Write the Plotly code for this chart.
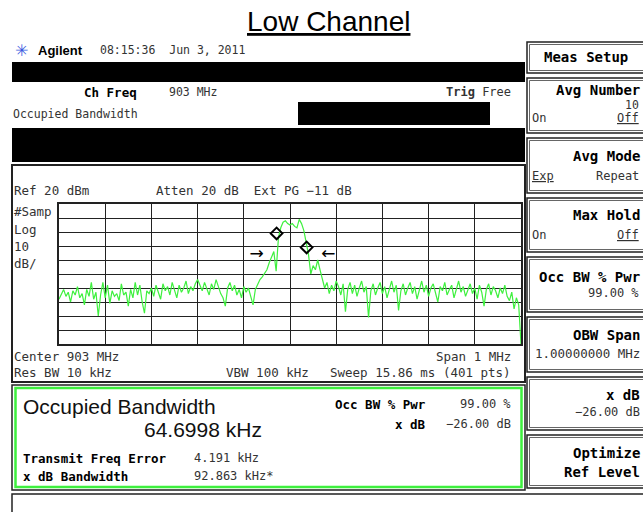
import plotly.graph_objects as go
import numpy as np

center_mhz = 903.0
span_mhz = 1.0
ref_level_dbm = 20
db_per_div = 10

# niveau de la trace (dBm), 201 points sur le span de 1 MHz
level_dbm = [
    -48, -44, -41, -46, -43, -50, -42, -45, -39, -47,
    -44, -52, -41, -46, -36, -48, -43, -60, -45, -36,
    -47, -38, -51, -42, -46, -44, -49, -37, -45, -43,
    -53, -41, -47, -36, -45, -38, -50, -58, -42, -44,
    -40, -46, -38, -43, -48, -37, -42, -39, -45, -36,
    -41, -47, -38, -43, -40, -35, -44, -39, -42, -37,
    -34, -38, -42, -36, -40, -45, -37, -41, -34, -39,
    -44, -47, -53, -40, -36, -42, -38, -45, -41, -47,
    -39, -43, -40, -46, -52, -41, -37, -34, -32, -29,
    -27, -22, -18, -14, -28, -4, 3, 7, 8, 6,
    5, 6, 4, 3, 9, 6, 1, -8, -16, -30,
    -24, -27, -20, -27, -33, -40, -36, -44, -38, -42,
    -35, -39, -45, -37, -57, -41, -36, -44, -38, -46,
    -40, -35, -43, -39, -61, -42, -37, -45, -40, -36,
    -44, -39, -47, -41, -35, -43, -38, -56, -42, -37,
    -45, -40, -36, -44, -39, -48, -41, -35, -43, -38,
    -46, -40, -37, -44, -50, -39, -42, -36, -45, -41,
    -38, -47, -40, -35, -43, -39, -46, -42, -37, -44,
    -40, -48, -38, -43, -53, -41, -37, -45, -39, -42,
    -47, -40, -44, -38, -46, -49, -43, -55, -47, -52,
    -80,
]
freq_mhz = np.linspace(center_mhz - span_mhz / 2, center_mhz + span_mhz / 2, len(level_dbm))

# marqueurs losange (points x dB) et flèches (limites OBW)
marker_freq_mhz = [902.971, 903.036]
marker_level_dbm = [-1, -11]
arrow_freq_mhz = [902.928, 903.083]
arrow_level_dbm = [-16, -16]
arrow_text = ["→", "←"]

W, H = 643, 512
MONO = "DejaVu Sans Mono"
SANS = "Liberation Sans"
GREEN = "#3ef03e"


def X(px):
    return px / W


def Y(py):
    return 1 - py / H


fig = go.Figure()

fig.add_trace(go.Scatter(
    x=freq_mhz, y=level_dbm, mode="lines",
    line=dict(color=GREEN, width=1.2), hoverinfo="skip"
))
fig.add_trace(go.Scatter(
    x=marker_freq_mhz, y=marker_level_dbm, mode="markers",
    marker=dict(symbol="diamond-open", size=9, color="black", line=dict(width=2, color="black")),
    hoverinfo="skip"
))
fig.add_trace(go.Scatter(
    x=arrow_freq_mhz, y=arrow_level_dbm, mode="text", text=arrow_text,
    textfont=dict(family="DejaVu Sans", size=17, color="black"), hoverinfo="skip"
))

shapes = []
annotations = []


def rect(x0, y0, x1, y1, fill=None, line="black", width=1.5):
    shapes.append(dict(
        type="rect", xref="paper", yref="paper",
        x0=X(x0), x1=X(x1), y0=Y(y0), y1=Y(y1),
        fillcolor=fill if fill else "rgba(0,0,0,0)",
        line=dict(color=line, width=width), layer="above"
    ))


def label(x, y, text, size=11.5, anchor="left", family=MONO, color="#222"):
    annotations.append(dict(
        x=X(x), y=Y(y), xref="paper", yref="paper", text=text, showarrow=False,
        xanchor=anchor, yanchor="middle", borderpad=0,
        font=dict(family=family, size=size, color=color)
    ))


# titre
label(328, 21, "<u>Low Channel</u>", size=28, anchor="center", family=SANS, color="black")

# en-tête
label(14, 50, "✳", size=16, family="DejaVu Sans", color="#3a5be0")
label(37, 50, "<b>Agilent</b>", size=13, family=SANS, color="black")
label(99, 50, "08:15:36  Jun 3, 2011", size=11.5, color="#333")
rect(12, 62, 525, 82, fill="black", line="black", width=0)
label(83, 92, "<b>Ch Freq</b>", size=12.5, color="black")
label(168, 92, "903 MHz", size=11.5, color="#333")
label(512, 92, "<b>Trig</b> Free", size=12, anchor="right", color="#333")
label(12, 114, "Occupied Bandwidth", size=11.5, color="#333")
rect(298, 102, 490, 125, fill="black", line="black", width=0)
rect(12, 128, 525, 162, fill="black", line="black", width=0)

# cadre de la zone trace
rect(12, 165, 525, 382, line="#222", width=2)
label(13, 190, "Ref 20 dBm", size=12.5, color="#333")
label(155, 190, "Atten 20 dB  Ext PG −11 dB", size=12.5, color="#333")
label(13, 211, "#Samp", size=12.5, color="#333")
label(13, 229, "Log", size=12.5, color="#333")
label(13, 246, "10", size=12.5, color="#333")
label(13, 263, "dB/", size=12.5, color="#333")
label(13, 356, "Center 903 MHz", size=12.5, color="#333")
label(13, 372, "Res BW 10 kHz", size=12.5, color="#333")
label(225, 372, "VBW 100 kHz", size=12.5, color="#333")
label(512, 356, "Span 1 MHz", size=12.5, anchor="right", color="#333")
label(512, 372, "Sweep 15.86 ms (401 pts)", size=12.5, anchor="right", color="#333")

# bloc résultats
rect(12, 385, 525, 490, line="#222", width=1.5)
rect(15.5, 388, 521.5, 487, line=GREEN, width=2.5)
label(22, 406, "Occupied Bandwidth", size=21, family=SANS, color="#111")
label(143, 429, "64.6998 kHz", size=21, family=SANS, color="#111")
label(22, 458, "<b>Transmit Freq Error</b>", size=12.5, color="black")
label(193, 458, "4.191 kHz", size=12, color="#333")
label(22, 476, "<b>x dB Bandwidth</b>", size=12.5, color="black")
label(193, 476, "92.863 kHz*", size=12, color="#333")
label(427, 404, "<b>Occ BW % Pwr</b>", size=12.5, anchor="right", color="black")
label(512, 404, "99.00 %", size=12, anchor="right", color="#333")
label(427, 424, "<b>x dB</b>", size=12.5, anchor="right", color="black")
label(512, 424, "−26.00 dB", size=12, anchor="right", color="#333")

# boîte vide en bas
rect(12, 494, 660, 520, line="#222", width=1.5)

# touches logicielles à droite
keys = [(42, 73), (78, 133), (138, 193), (198, 252), (257, 312), (317, 372), (377, 430), (435, 488)]
for y0, y1 in keys:
    rect(527, y0, 660, y1, line="#222", width=1.5)
    rect(529.5, y0 + 2.5, 660, y1 - 2.5, line="#666", width=1)

label(543, 57, "<b>Meas Setup</b>", size=14, color="black")
label(641, 90, "<b>Avg Number</b>", size=14, anchor="right", color="black")
label(640, 105, "10", size=11.5, anchor="right", color="#333")
label(531, 118, "On", size=12, color="#333")
label(640, 118, "<u>Off</u>", size=12, anchor="right", color="#333")
label(641, 156, "<b>Avg Mode</b>", size=14, anchor="right", color="black")
label(531, 176, "<u>Exp</u>", size=12, color="#333")
label(640, 176, "Repeat", size=12, anchor="right", color="#333")
label(641, 215, "<b>Max Hold</b>", size=14, anchor="right", color="black")
label(531, 235, "On", size=12, color="#333")
label(640, 235, "<u>Off</u>", size=12, anchor="right", color="#333")
label(641, 277, "<b>Occ BW % Pwr</b>", size=14, anchor="right", color="black")
label(640, 293, "99.00 %", size=12, anchor="right", color="#333")
label(641, 335, "<b>OBW Span</b>", size=14, anchor="right", color="black")
label(641, 353, "1.00000000 MHz", size=12.5, anchor="right", color="#333")
label(641, 395, "<b>x dB</b>", size=14, anchor="right", color="black")
label(641, 412, "−26.00 dB", size=12, anchor="right", color="#333")
label(641, 453, "<b>Optimize</b>", size=14, anchor="right", color="black")
label(641, 472, "<b>Ref Level</b>", size=14, anchor="right", color="black")

fig.update_layout(
    width=W, height=H,
    margin=dict(l=0, r=0, t=0, b=0),
    paper_bgcolor="white", plot_bgcolor="white",
    showlegend=False,
    xaxis=dict(
        domain=[X(59), X(521)],
        range=[center_mhz - span_mhz / 2, center_mhz + span_mhz / 2],
        tick0=center_mhz - span_mhz / 2, dtick=span_mhz / 10,
        showgrid=True, gridcolor="#222", gridwidth=1.3,
        showline=True, mirror=True, linecolor="#222", linewidth=1.5,
        showticklabels=False, ticks="", zeroline=False, fixedrange=True
    ),
    yaxis=dict(
        domain=[Y(344), Y(204)],
        range=[ref_level_dbm - 10 * db_per_div, ref_level_dbm],
        tick0=ref_level_dbm - 10 * db_per_div, dtick=db_per_div,
        showgrid=True, gridcolor="#222", gridwidth=1.3,
        showline=True, mirror=True, linecolor="#222", linewidth=1.5,
        showticklabels=False, ticks="", zeroline=False, fixedrange=True
    ),
    shapes=shapes,
    annotations=annotations,
)

# la page HTML a une marge de 8 px par défaut : on la supprime
fig.write_html(
    "out.html",
    config={"displayModeBar": False},
    post_script="document.body.style.margin='0px';",
)
